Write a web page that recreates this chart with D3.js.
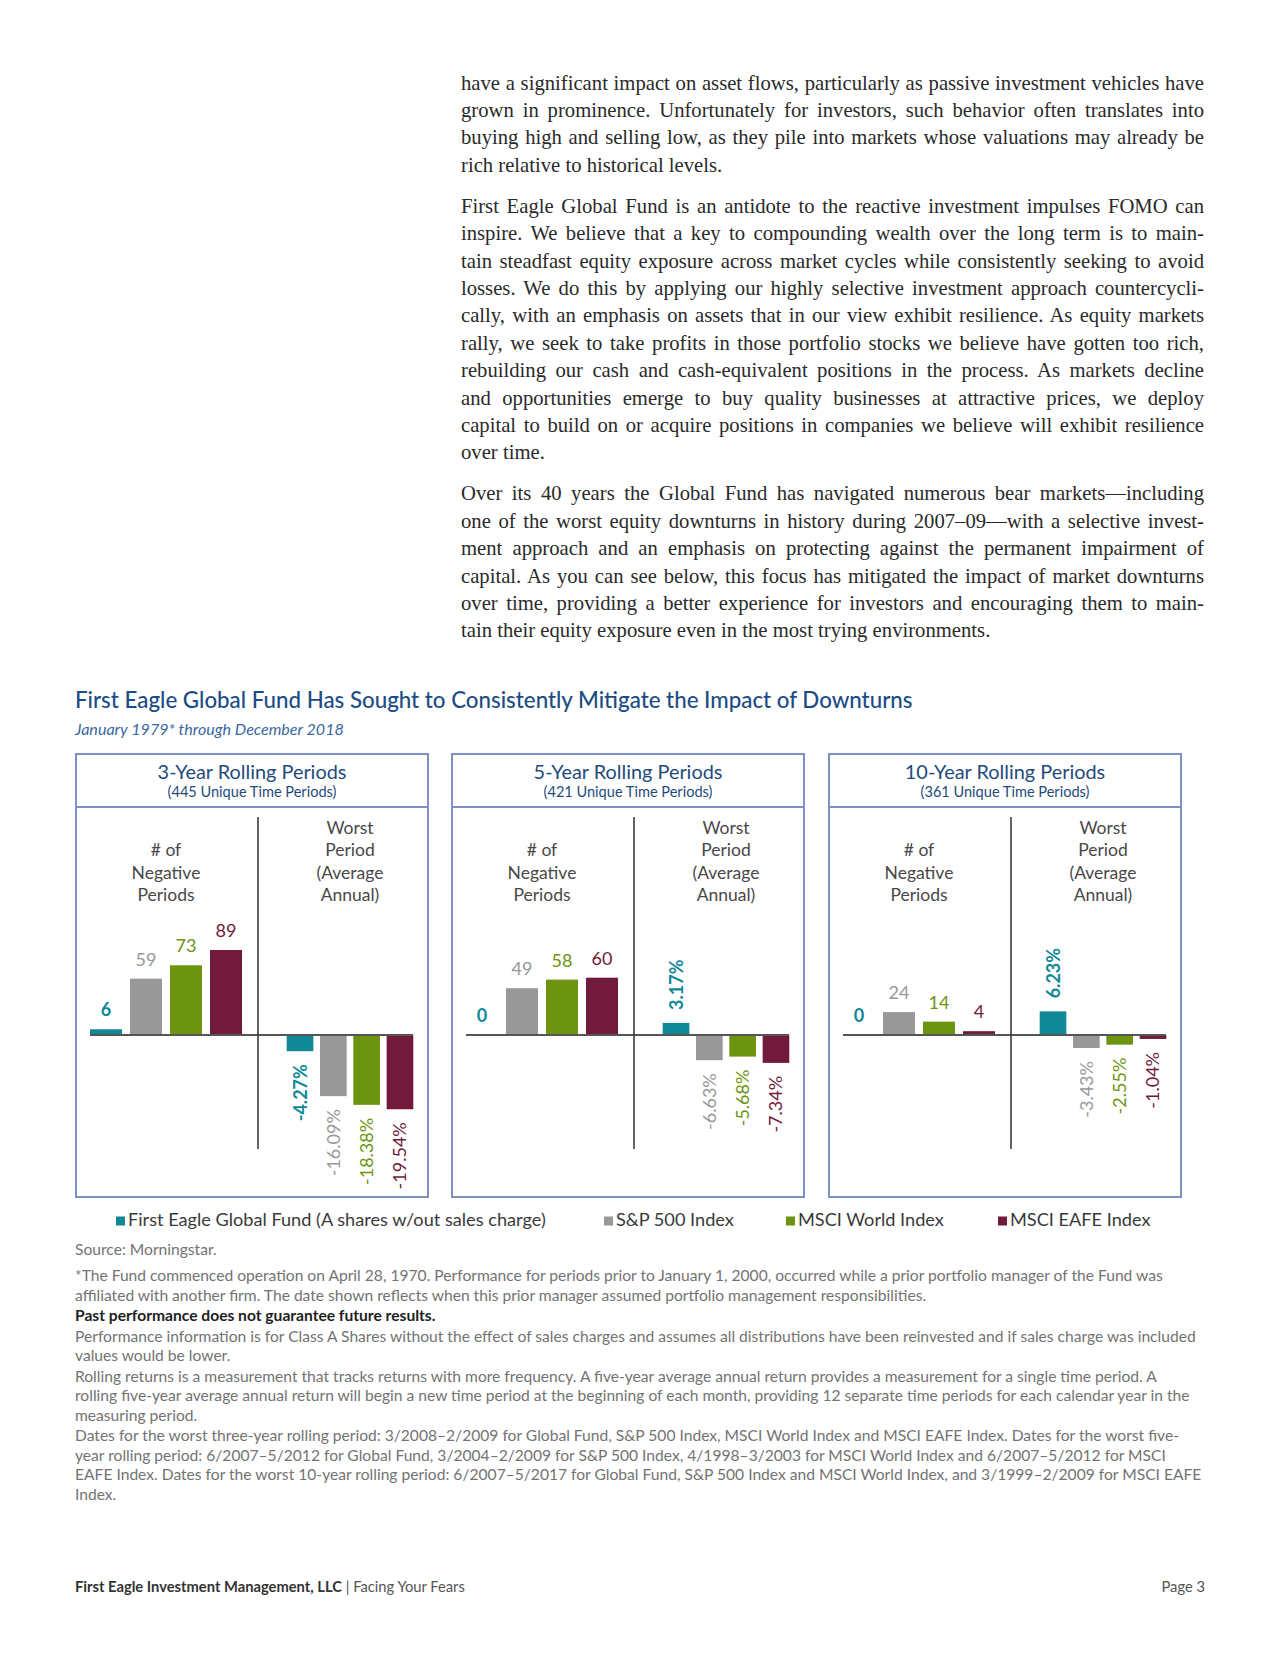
<!DOCTYPE html>
<html><head><meta charset="utf-8">
<script src="https://cdn.jsdelivr.net/npm/d3@7"></script>
<style>body{margin:0;background:#fff}svg{display:block}</style>
</head><body>
<svg id="c" width="1280" height="1656"></svg>
<script>
// ---------------- DATA ----------------
const bodyParagraphs = [
  ["have a significant impact on asset flows, particularly as passive investment vehicles have",
   "grown in prominence. Unfortunately for investors, such behavior often translates into",
   "buying high and selling low, as they pile into markets whose valuations may already be",
   "rich relative to historical levels."],
  ["First Eagle Global Fund is an antidote to the reactive investment impulses FOMO can",
   "inspire. We believe that a key to compounding wealth over the long term is to main-",
   "tain steadfast equity exposure across market cycles while consistently seeking to avoid",
   "losses. We do this by applying our highly selective investment approach countercycli-",
   "cally, with an emphasis on assets that in our view exhibit resilience. As equity markets",
   "rally, we seek to take profits in those portfolio stocks we believe have gotten too rich,",
   "rebuilding our cash and cash-equivalent positions in the process. As markets decline",
   "and opportunities emerge to buy quality businesses at attractive prices, we deploy",
   "capital to build on or acquire positions in companies we believe will exhibit resilience",
   "over time."],
  ["Over its 40 years the Global Fund has navigated numerous bear markets\u2014including",
   "one of the worst equity downturns in history during 2007\u201309\u2014with a selective invest-",
   "ment approach and an emphasis on protecting against the permanent impairment of",
   "capital. As you can see below, this focus has mitigated the impact of market downturns",
   "over time, providing a better experience for investors and encouraging them to main-",
   "tain their equity exposure even in the most trying environments."]
];
const chartTitle = "First Eagle Global Fund Has Sought to Consistently Mitigate the Impact of Downturns";
const chartSubtitle = "January 1979* through December 2018";
const panelTitles = ["3-Year Rolling Periods", "5-Year Rolling Periods", "10-Year Rolling Periods"];
const panelSubtitles = ["(445 Unique Time Periods)", "(421 Unique Time Periods)", "(361 Unique Time Periods)"];
const leftHeader = ["# of", "Negative", "Periods"];
const rightHeader = ["Worst", "Period", "(Average", "Annual)"];
const seriesNames = ["First Eagle Global Fund (A shares w/out sales charge)", "S&P 500 Index", "MSCI World Index", "MSCI EAFE Index"];
const seriesColors = ["#108896", "#989898", "#6d9410", "#711a3b"];
const negativePeriods = [[6, 59, 73, 89], [0, 49, 58, 60], [0, 24, 14, 4]];
const worstPeriod = [[-4.27, -16.09, -18.38, -19.54], [3.17, -6.63, -5.68, -7.34], [6.23, -3.43, -2.55, -1.04]];
const footnoteBlocks = [
  ["Source: Morningstar."],
  ["*The Fund commenced operation on April 28, 1970. Performance for periods prior to January 1, 2000, occurred while a prior portfolio manager of the Fund was",
   "affiliated with another firm. The date shown reflects when this prior manager assumed portfolio management responsibilities."],
  ["Past performance does not guarantee future results."],
  ["Performance information is for Class A Shares without the effect of sales charges and assumes all distributions have been reinvested and if sales charge was included",
   "values would be lower."],
  ["Rolling returns is a measurement that tracks returns with more frequency. A five-year average annual return provides a measurement for a single time period. A",
   "rolling five-year average annual return will begin a new time period at the beginning of each month, providing 12 separate time periods for each calendar year in the",
   "measuring period."],
  ["Dates for the worst three-year rolling period: 3/2008\u20132/2009 for Global Fund, S&P 500 Index, MSCI World Index and MSCI EAFE Index. Dates for the worst five-",
   "year rolling period: 6/2007\u20135/2012 for Global Fund, 3/2004\u20132/2009 for S&P 500 Index, 4/1998\u20133/2003 for MSCI World Index and 6/2007\u20135/2012 for MSCI",
   "EAFE Index. Dates for the worst 10-year rolling period: 6/2007\u20135/2017 for Global Fund, S&P 500 Index and MSCI World Index, and 3/1999\u20132/2009 for MSCI EAFE",
   "Index."]
];
const boldFootnoteBlock = 2;
const footerBold = "First Eagle Investment Management, LLC";
const footerRest = "Facing Your Fears";
const pageLabel = "Page 3";

// ---------------- DRAW ----------------
const svg = d3.select("#c");
const SANS = "Lato, 'Open Sans', 'DejaVu Sans', sans-serif";

function fitFont(sel, target, base) {
  sel.attr("font-size", base);
  const len = sel.node().getComputedTextLength();
  const fs = base * target / len;
  sel.attr("font-size", fs);
  return fs;
}

// Body text (justified)
const bodyX = 461, bodyW = 743, bodyLH = 27.4, paraGap = 13.6;
const bodyG = svg.append("g").attr("font-family", "'Liberation Serif', 'DejaVu Serif', serif").attr("fill", "#2a2a2a");
let by = 89.5;
const bodyLines = [];
bodyParagraphs.forEach((p, pi) => {
  if (pi > 0) by += paraGap;
  p.forEach((line, li) => {
    const t = bodyG.append("text").attr("x", bodyX).attr("y", by).attr("font-size", 20).text(line);
    bodyLines.push({ t, last: li === p.length - 1 });
    by += bodyLH;
  });
});
const maxBody = d3.max(bodyLines.filter(d => !d.last), d => d.t.node().getComputedTextLength());
const bodyFs = 20 * bodyW * 0.992 / maxBody;
bodyLines.forEach(d => {
  d.t.attr("font-size", bodyFs);
  if (!d.last) {
    const len = d.t.node().getComputedTextLength();
    const n = (d.t.text().match(/ /g) || []).length;
    if (n) d.t.attr("word-spacing", (bodyW - len) / n);
  }
});

// Chart title
const title = svg.append("text").attr("x", 75).attr("y", 707.5).attr("font-family", SANS)
  .attr("font-weight", 500).attr("fill", "#1b4c84").text(chartTitle);
fitFont(title, 838, 20);
const sub = svg.append("text").attr("x", 75).attr("y", 734.5).attr("font-family", SANS)
  .attr("font-style", "italic").attr("fill", "#3a68a0").text(chartSubtitle);
fitFont(sub, 269, 15);

// Panels
const panelX = [76, 452, 829], panelW = 352, panelTop = 754, panelBot = 1197, headDiv = 807, zeroY = 1035;
const divX = 182, zeroX0 = 14, zeroX1 = 337;
const yCount = d3.scaleLinear().domain([0, 100]).range([zeroY, zeroY - 95.5]);
const yPct = d3.scaleLinear().domain([-20, 10]).range([zeroY + 76, zeroY - 38]);
const xLeft = d3.scaleBand().domain(d3.range(4)).range([14, 166]).paddingInner(0.2).paddingOuter(0);
const xRight = d3.scaleBand().domain(d3.range(4)).range([210.7, 337.3]).paddingInner(0.2).paddingOuter(0);

let ptFs = null, psFs = null;
panelTitles.forEach((pt, pi) => {
  const g = svg.append("g").attr("transform", `translate(${panelX[pi]},0)`);
  g.append("rect").attr("x", 0).attr("y", panelTop).attr("width", panelW).attr("height", panelBot - panelTop)
    .attr("fill", "none").attr("stroke", "#7f90c3").attr("stroke-width", 2);
  g.append("line").attr("x1", 0).attr("x2", panelW).attr("y1", headDiv).attr("y2", headDiv)
    .attr("stroke", "#7f90c3").attr("stroke-width", 2);
  const tt = g.append("text").attr("x", panelW / 2).attr("y", 779).attr("text-anchor", "middle")
    .attr("font-family", SANS).attr("fill", "#1f4b7c").text(pt);
  if (ptFs === null) ptFs = fitFont(tt, 189, 18); else tt.attr("font-size", ptFs);
  const st = g.append("text").attr("x", panelW / 2).attr("y", 797).attr("text-anchor", "middle")
    .attr("font-family", SANS).attr("fill", "#1f4b7c").text(panelSubtitles[pi]);
  if (psFs === null) psFs = fitFont(st, 169, 13); else st.attr("font-size", psFs);

  // headers
  const lh = 22.4, hb = 901;
  leftHeader.forEach((h, i) => {
    g.append("text").attr("x", (xLeft.range()[0] + xLeft.range()[1]) / 2)
      .attr("y", hb - (leftHeader.length - 1 - i) * lh).attr("text-anchor", "middle")
      .attr("font-family", SANS).attr("font-size", 17.5).attr("fill", "#484848").text(h);
  });
  rightHeader.forEach((h, i) => {
    g.append("text").attr("x", (xRight.range()[0] + xRight.range()[1]) / 2)
      .attr("y", hb - (rightHeader.length - 1 - i) * lh).attr("text-anchor", "middle")
      .attr("font-family", SANS).attr("font-size", 17.5).attr("fill", "#484848").text(h);
  });

  // count bars
  negativePeriods[pi].forEach((v, i) => {
    g.append("rect").attr("x", xLeft(i)).attr("width", xLeft.bandwidth())
      .attr("y", yCount(v)).attr("height", zeroY - yCount(v)).attr("fill", seriesColors[i]);
    g.append("text").attr("x", xLeft(i) + xLeft.bandwidth() / 2).attr("y", yCount(v) - 13)
      .attr("text-anchor", "middle").attr("font-family", SANS).attr("font-size", 18)
      .attr("font-weight", i === 0 ? 700 : 400).attr("fill", seriesColors[i]).text(v);
  });
  // percent bars
  worstPeriod[pi].forEach((v, i) => {
    const y0 = yPct(0), y1 = yPct(v);
    g.append("rect").attr("x", xRight(i)).attr("width", xRight.bandwidth())
      .attr("y", Math.min(y0, y1)).attr("height", Math.abs(y1 - y0)).attr("fill", seriesColors[i]);
    const cx = xRight(i) + xRight.bandwidth() / 2;
    const ly = v < 0 ? y1 + 13 : y1 - 13;
    g.append("text").attr("transform", `translate(${cx},${ly}) rotate(-90)`)
      .attr("dy", "0.36em").attr("text-anchor", v < 0 ? "end" : "start")
      .attr("font-family", SANS).attr("font-size", 18)
      .attr("font-weight", i === 0 ? 700 : 400).attr("fill", seriesColors[i])
      .text(v.toFixed(2) + "%");
  });
  // axes lines
  g.append("line").attr("x1", zeroX0).attr("x2", zeroX1).attr("y1", zeroY).attr("y2", zeroY)
    .attr("stroke", "#555").attr("stroke-width", 2);
  g.append("line").attr("x1", divX).attr("x2", divX).attr("y1", 817).attr("y2", 1149)
    .attr("stroke", "#3c3c3c").attr("stroke-width", 1.6);
});

// Legend
const legendX = [116, 604, 786, 998];
let legFs = null;
seriesNames.forEach((s, i) => {
  svg.append("rect").attr("x", legendX[i]).attr("y", 1216.5).attr("width", 9).attr("height", 9).attr("fill", seriesColors[i]);
  const t = svg.append("text").attr("x", legendX[i] + 12).attr("y", 1226).attr("font-family", SANS)
    .attr("fill", "#3a3a3a").text(s);
  if (legFs === null) legFs = fitFont(t, 418, 17); else t.attr("font-size", legFs);
});

// Footnotes
const fnG = svg.append("g").attr("font-family", SANS);
const fnTexts = [];
let fy = 1254.5;
const fnLH = 19.5;
footnoteBlocks.forEach((b, bi) => {
  if (bi === 1) fy += 7;
  else if (bi > 1) fy += 1;
  b.forEach(line => {
    const t = fnG.append("text").attr("x", 75).attr("y", fy).attr("font-size", 14)
      .attr("fill", bi === boldFootnoteBlock ? "#1e1e1e" : "#737373")
      .attr("font-weight", bi === boldFootnoteBlock ? 700 : 400).text(line);
    fnTexts.push({ t, bold: bi === boldFootnoteBlock });
    fy += fnLH;
  });
});
const maxFn = d3.max(fnTexts.filter(d => !d.bold), d => d.t.node().getComputedTextLength());
const fnFs = 14 * 1127 / maxFn;
fnTexts.forEach(d => d.t.attr("font-size", fnFs));

// Footer
const ft = svg.append("text").attr("x", 75).attr("y", 1591.5).attr("font-family", SANS).attr("fill", "#333");
ft.append("tspan").attr("font-weight", 700).text(footerBold);
ft.append("tspan").attr("fill", "#555").text("  |  " + footerRest);
const footFs = fitFont(ft, 390, 13);
svg.append("text").attr("x", 1205).attr("y", 1591.5).attr("text-anchor", "end").attr("font-family", SANS)
  .attr("font-size", footFs).attr("fill", "#555").text(pageLabel);
</script>
</body></html>
